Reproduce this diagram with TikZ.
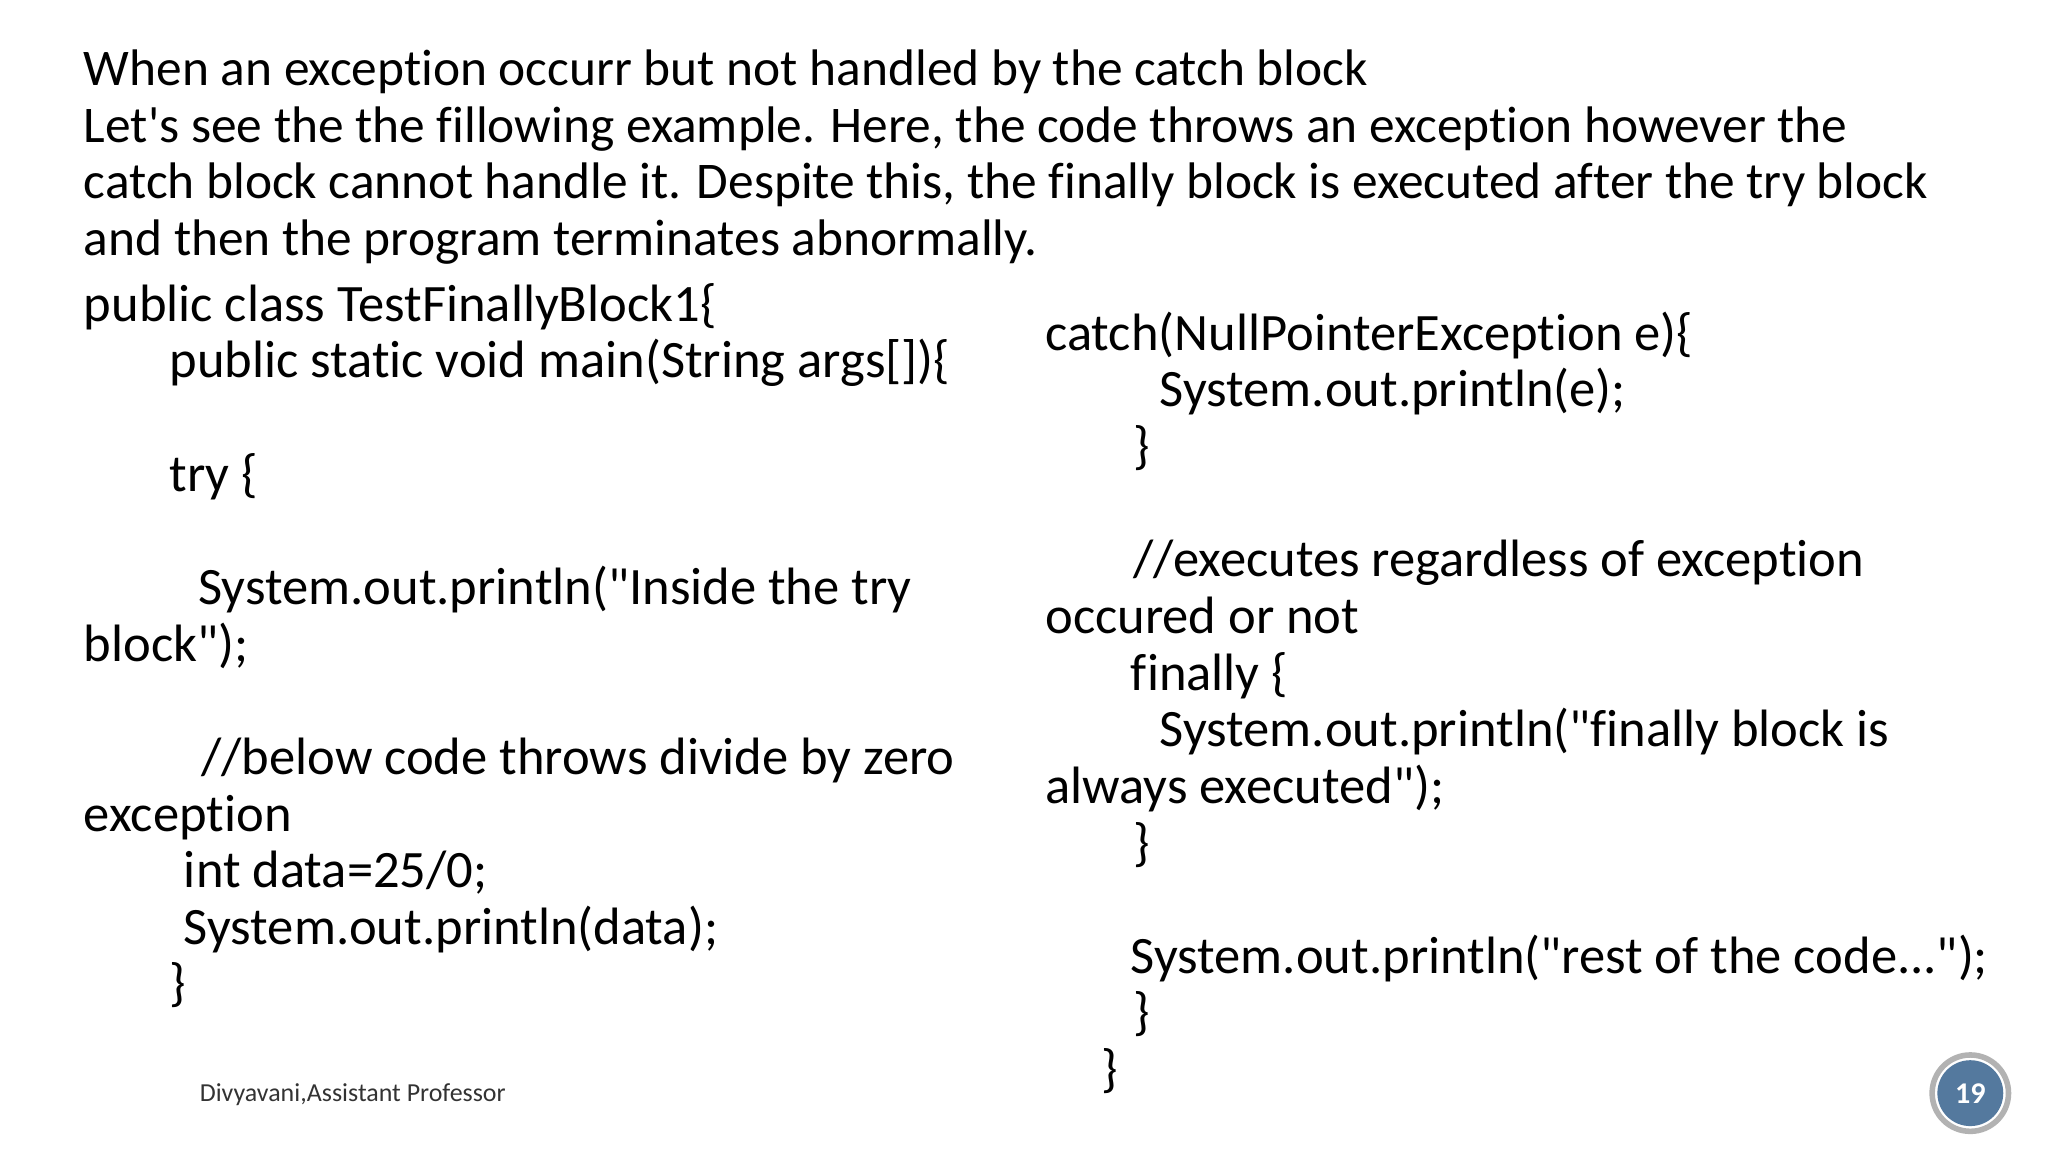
\documentclass[tikz,border=0pt]{standalone}
\usepackage{fontspec}
\setmainfont{Carlito}[Ligatures={NoCommon}]
\newcommand{\dq}{\textquotedbl}
\newcommand{\sq}{\textquotesingle}
\begin{document}
\begin{tikzpicture}[x=0.01cm,y=-0.01cm,
  t/.style={anchor=base west,inner sep=0pt,font=\fontsize{11.1}{13}\selectfont},
  c/.style={anchor=base west,inner sep=0pt,font=\fontsize{11.35}{13}\selectfont}]
\path[use as bounding box,fill=white] (0,0) rectangle (1555,874.7);
\node[t] (h1) at (63,65) {When an exception occurr but not handled by the catch block};
\node[t] (h2) at (63,108) {Let\sq s see the the fillowing example. Here, the code throws an exception however the};
\node[t] (h3) at (63,151) {catch block cannot handle it. Despite this, the finally block is executed after the try block};
\node[t] (h4) at (63,194) {and then the program terminates abnormally.};
% left code
\node[c] (l1) at (63,244) {public class TestFinallyBlock1\{};
\node[c] (l2) at (128,287) {public static void main(String args[])\{};
\node[c] (l3) at (128,373) {try \{};
\node[c] (l4) at (150,459) {System.out.println(\dq Inside the try};
\node[c] (l5) at (63,502) {block\dq);};
\node[c] (l6) at (152,588) {//below code throws divide by zero};
\node[c] (l7) at (63,631) {exception};
\node[c] (l8) at (139,674) {int data=25/0;};
\node[c] (l9) at (139,717) {System.out.println(data);};
\node[c] (l10) at (128,760) {\}};
% right code
\node[c] (r1) at (793,266) {catch(NullPointerException e)\{};
\node[c] (r2) at (880,309) {System.out.println(e);};
\node[c] (r3) at (860,352) {\}};
\node[c] (r4) at (860,438) {//executes regardless of exception};
\node[c] (r5) at (793,481) {occured or not};
\node[c] (r6) at (858,524) {finally \{};
\node[c] (r7) at (880,567) {System.out.println(\dq finally block is};
\node[c] (r8) at (793,610) {always executed\dq);};
\node[c] (r9) at (860,653) {\}};
\node[c] (r10) at (858,739) {System.out.println(\dq rest of the code...\dq);};
\node[c] (r11) at (860,782) {\}};
\node[c] (r12) at (836,825) {\}};
% footer
\node[anchor=base west,inner sep=0pt,font=\fontsize{5.6}{7}\selectfont,text=black!80] (ft) at (151,836) {Divyavani,Assistant Professor};
\draw[gray!60,line width=1.2pt,fill=white] (1496,830) circle (29);
\node[circle,fill={rgb,255:red,84;green,121;blue,158},minimum size=0.5cm,inner sep=0pt,text=white,font=\fontsize{6.5}{8}\bfseries\selectfont] (pg) at (1496,830) {19};
\end{tikzpicture}
\end{document}
